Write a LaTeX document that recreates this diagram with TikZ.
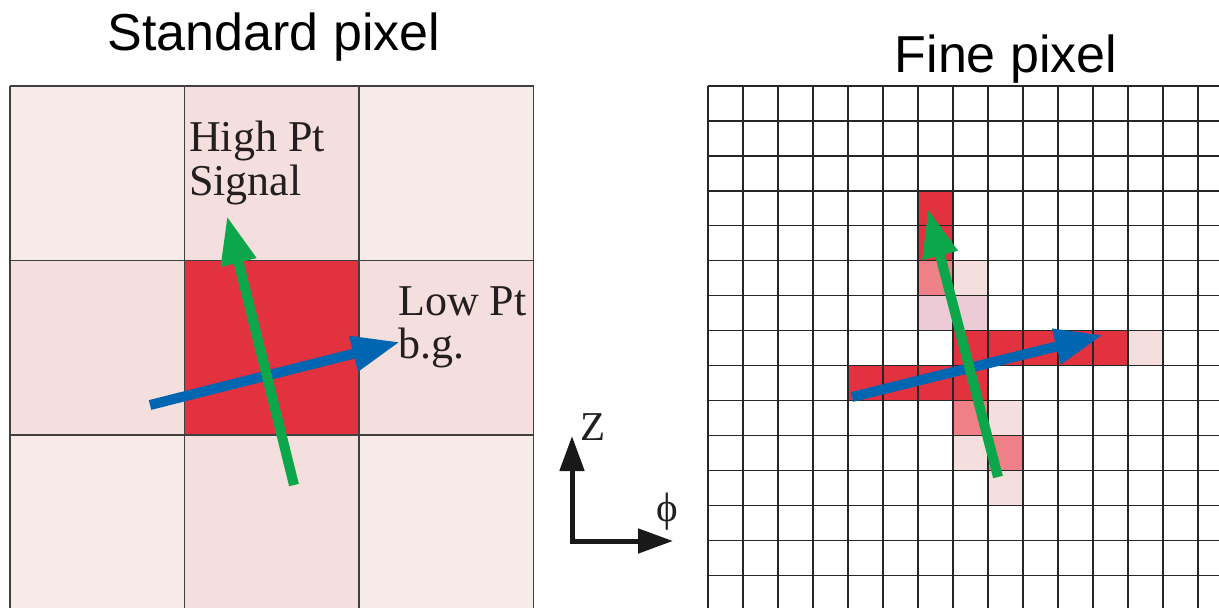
\documentclass[tikz,border=0pt]{standalone}
\usepackage{fontspec}
\setmainfont{Liberation Serif}
\newfontfamily\titlefont{Liberation Sans}
\usetikzlibrary{arrows.meta}
\definecolor{cellred}{RGB}{226,50,64}
\definecolor{cellmid}{RGB}{240,128,136}
\definecolor{celllight}{RGB}{245,222,222}
\definecolor{cellmauve}{RGB}{236,202,214}
\definecolor{cellpale}{RGB}{247,235,231}
\definecolor{trackgreen}{RGB}{12,166,75}
\definecolor{trackblue}{RGB}{0,102,178}
\definecolor{inkdark}{RGB}{35,31,32}
\tikzset{
  coarseline/.style={draw=black!75, line width=1.2pt},
  fineline/.style={draw=black!85, line width=1.3pt},
  track/.style={line width=10pt, -{Triangle[length=48pt,width=34pt]}},
  axisline/.style={line width=5pt, draw=black!90, miter limit=4,
    {Triangle[length=35pt,width=24pt]}-{Triangle[length=35pt,width=24pt]}},
  title/.style={font=\titlefont\fontsize{52}{52}\selectfont, inner sep=0pt, anchor=base},
  label/.style={font=\fontsize{44}{44}\selectfont, text=inkdark, inner sep=0pt, anchor=base west, align=left},
  axislabel/.style={font=\fontsize{41}{41}\selectfont, text=inkdark, inner sep=0pt, anchor=base}
}
\begin{document}
\begin{tikzpicture}[x=1pt,y=-1pt]
  \useasboundingbox (0,0) rectangle (1219,608);
  % standard pixel
  \foreach \i/\j/\shade in {0/0/cellpale,1/0/celllight,2/0/cellpale,
      0/1/celllight,1/1/cellred,2/1/celllight,
      0/2/cellpale,1/2/celllight,2/2/cellpale}
    \fill[\shade] ({10+174.5*\i},{86+174.5*\j}) rectangle ++(174.5,174.5);
  \foreach \i in {0,...,3}
    \draw[coarseline] ({10+174.5*\i},86) -- ({10+174.5*\i},610);
  \foreach \j in {0,...,2}
    \draw[coarseline] (10,{86+174.5*\j}) -- (533.5,{86+174.5*\j});
  % fine pixel
  \foreach \i/\j/\shade in {6/3/cellred,6/4/cellred,6/5/cellmid,7/5/celllight,
      6/6/cellmauve,7/6/cellmauve,
      7/7/cellred,8/7/cellred,9/7/cellred,10/7/cellred,11/7/cellred,12/7/celllight,
      4/8/cellred,5/8/cellred,6/8/cellred,7/8/cellred,
      7/9/cellmid,8/9/celllight,7/10/celllight,8/10/cellmid,8/11/celllight}
    \fill[\shade] ({708+35*\i},{86+34.95*\j}) rectangle ++(35,34.95);
  \foreach \i in {0,...,14}
    \draw[fineline] ({708+35*\i},86) -- ({708+35*\i},610);
  \foreach \j in {0,...,14}
    \draw[fineline] (708,{86+34.95*\j}) -- (1220,{86+34.95*\j});
  % tracks
  \coordinate (sigtail) at (294,485);
  \coordinate (sigtip) at (227,216);
  \coordinate (bgtail) at (150,405);
  \coordinate (bgtip) at (400,342);
  \coordinate (finesigtail) at (998,477);
  \coordinate (finesigtip) at (928,209);
  \coordinate (finebgtail) at (852,397);
  \coordinate (finebgtip) at (1103,335);
  \draw[track, trackblue] (bgtail) -- (bgtip);
  \draw[track, trackgreen] (sigtail) -- (sigtip);
  \draw[track, trackblue] (finebgtail) -- (finebgtip);
  \draw[track, trackgreen] (finesigtail) -- (finesigtip);
  % axes
  \coordinate (origin) at (572,541);
  \coordinate (ztip) at (572,436);
  \coordinate (phitip) at (673,541);
  \draw[axisline] (ztip) -- (origin) -- (phitip);
  \node[axislabel] (zlabel) at (593,440) {Z};
  \node[axislabel] (philabel) at (667,521) {ϕ};
  % labels
  \node[title] (stdtitle) at (274,50) {Standard pixel};
  \node[title] (finetitle) at (1006,72) {Fine pixel};
  \node[label] (highpt) at (189,151) {High Pt};
  \node[label] (signal) at (189,195) {Signal};
  \node[label] (lowpt) at (398,315) {Low Pt};
  \node[label] (bg) at (398,358) {b.g.};
\end{tikzpicture}
\end{document}
